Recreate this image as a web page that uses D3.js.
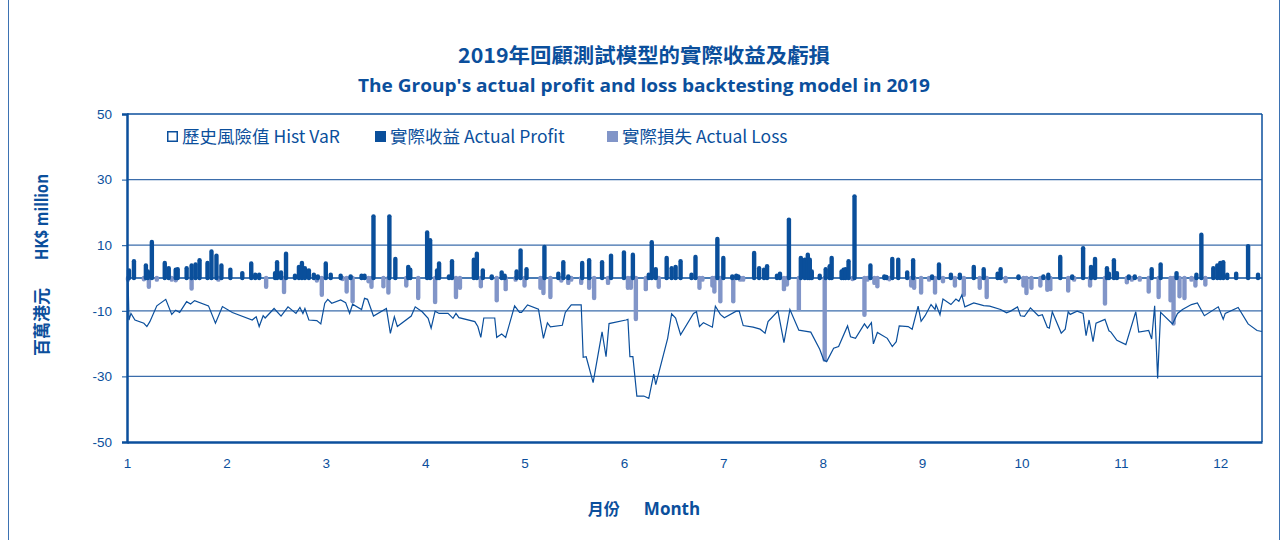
<!DOCTYPE html>
<html lang="en">
<head>
<meta charset="UTF-8">
<title>2019 Backtesting</title>
<style>
  body { margin: 0; background: #fff; }
  svg { display: block; }
  .cjk { font-family: "Noto Sans CJK TC", "Noto Sans", sans-serif; }
  .lat { font-family: "Open Sans", "Noto Sans", sans-serif; }
  .axis text { font-family: "Liberation Sans", Arial, sans-serif; font-size: 13.5px; fill: #0b4f9c; }
</style>
</head>
<body>
<svg id="chart" width="1287" height="540"></svg>
<script src="https://d3js.org/d3.v7.min.js"></script>
<script>
// --- data (x in months, values in HK$ million) ---
const monthTicks = [1, 2, 3, 4, 5, 6, 7, 8, 9, 10, 11, 12];
const yTicks = [-50, -30, -10, 10, 30, 50];

const varX = [1.01,1.02,1.04,1.08,1.17,1.20,1.23,1.30,1.39,1.45,1.49,1.53,1.60,1.64,1.68,1.82,1.89,1.96,
  2.06,2.26,2.30,2.33,2.37,2.39,2.48,2.55,2.62,2.70,2.74,2.77,2.79,2.83,2.91,2.95,2.99,
  3.02,3.06,3.15,3.20,3.24,3.27,3.36,3.39,3.42,3.48,3.61,3.65,3.69,3.72,3.86,3.90,3.97,
  4.03,4.06,4.10,4.14,4.23,4.28,4.31,4.34,4.50,4.53,4.56,4.59,4.70,4.72,4.77,4.81,4.90,4.95,4.97,
  5.03,5.14,5.19,5.23,5.26,5.38,5.41,5.47,5.57,5.59,5.62,5.69,5.78,5.82,5.85,
  6.02,6.04,6.06,6.09,6.13,6.20,6.25,6.30,6.32,6.44,6.48,6.52,6.57,6.70,6.73,6.76,6.80,6.89,6.92,6.97,
  7.01,7.13,7.16,7.20,7.30,7.37,7.42,7.45,7.55,7.61,7.67,7.76,7.82,7.88,7.97,
  8.01,8.04,8.11,8.16,8.25,8.28,8.33,8.42,8.45,8.49,8.51,8.55,8.65,8.70,8.74,8.77,8.86,8.90,8.96,8.99,
  9.03,9.09,9.13,9.14,9.18,9.21,9.29,9.34,9.37,9.40,9.43,9.52,9.62,9.68,9.79,9.82,9.85,9.89,9.96,9.99,
  10.03,10.09,10.17,10.21,10.26,10.28,10.31,10.40,10.44,10.47,10.49,10.56,10.62,10.65,10.68,10.72,10.75,10.84,10.88,10.90,10.96,
  11.05,11.15,11.18,11.28,11.31,11.34,11.37,11.40,11.52,11.57,11.62,11.71,11.77,11.84,11.98,
  12.03,12.05,12.18,12.28,12.37,12.42];
const varVal = [0,-12.8,-10.8,-12.8,-13.8,-14.8,-13.3,-8.5,-6.5,-11.1,-9.8,-10.5,-7.2,-7.9,-6.9,-8.5,-13.8,-8.7,
  -10.5,-12.8,-11.8,-14.8,-11.5,-12.2,-9.3,-11.6,-8.8,-10.8,-9.0,-10.8,-9.3,-12.8,-13.0,-14.0,-7.7,
  -6.5,-7.7,-6.7,-7.5,-10.8,-8.0,-9.6,-6.2,-6.5,-11.6,-9.3,-16.9,-11.8,-14.8,-11.6,-8.8,-10.3,
  -12.3,-15.3,-10.1,-10.8,-10.8,-12.3,-10.8,-12.1,-13.3,-14.8,-18.1,-12.2,-12.2,-18.1,-17.1,-18.1,-8.5,-10.5,-10.5,
  -8.2,-9.5,-18.4,-13.7,-14.9,-14.4,-10.5,-8.2,-8.2,-24.2,-24.0,-31.9,-16.4,-24.0,-13.9,
  -12.8,-12.6,-24.0,-24.0,-36.0,-36.0,-36.7,-29.3,-32.5,-18.4,-10.9,-12.2,-17.3,-10.8,-10.3,-14.8,-13.6,-15.0,-8.6,-11.1,
  -12.1,-10.1,-10.1,-14.5,-15.0,-15.6,-16.8,-13.3,-10.1,-19.7,-9.6,-15.9,-16.2,-16.5,-21.7,
  -25.0,-25.5,-21.4,-20.9,-14.6,-17.9,-18.4,-14.0,-15.3,-13.6,-20.1,-16.6,-18.4,-20.9,-19.4,-14.6,-14.8,-15.6,-8.6,-13.2,
  -11.5,-8.1,-9.6,-8.1,-11.2,-6.4,-8.1,-6.4,-7.1,-5.2,-8.8,-7.6,-8.4,-8.6,-9.6,-10.1,-10.6,-10.1,-8.8,-11.5,
  -11.7,-9.1,-11.5,-11.2,-15.0,-15.3,-10.3,-16.8,-15.6,-10.3,-11.1,-10.1,-10.8,-17.6,-12.8,-19.4,-13.8,-12.6,-16.1,-16.5,-19.0,
  -20.3,-10.3,-16.5,-16.0,-18.6,-8.5,-30.6,-10.5,-14.0,-10.8,-9.6,-8.1,-7.6,-11.5,-8.8,
  -12.6,-10.8,-9.0,-14.0,-16.0,-16.3];

const profitX = [1.02,1.07,1.19,1.21,1.25,1.38,1.42,1.49,1.51,1.60,1.65,1.69,1.73,1.81,1.85,1.90,1.95,
  2.04,2.16,2.25,2.29,2.33,2.49,2.51,2.55,2.60,2.69,2.73,2.76,2.79,2.83,2.88,2.92,
  3.00,3.05,3.15,3.25,3.36,3.39,3.48,3.64,3.70,3.83,3.85,
  4.02,4.05,4.12,4.14,4.24,4.27,4.49,4.52,4.58,4.67,4.77,4.80,4.92,4.96,
  5.02,5.20,5.34,5.39,5.44,5.58,5.65,5.78,5.87,
  6.00,6.09,6.25,6.28,6.32,6.43,6.48,6.52,6.57,6.68,6.72,6.94,
  7.00,7.09,7.13,7.15,7.31,7.36,7.41,7.44,7.54,7.57,7.66,7.78,7.82,7.85,7.87,7.89,7.97,
  8.03,8.07,8.09,8.19,8.21,8.23,8.26,8.32,8.48,8.62,8.64,8.70,8.76,8.85,8.91,
  9.10,9.17,9.29,9.38,9.52,9.62,9.76,9.79,9.97,
  10.22,10.27,10.39,10.51,10.62,10.70,10.74,10.86,10.88,10.93,10.96,
  11.08,11.14,11.31,11.40,11.56,11.76,11.81,11.93,11.97,
  12.00,12.03,12.07,12.16,12.28,12.38];
const profitVal = [2.3,5.1,3.8,2.0,11.0,4.6,3.0,2.5,2.7,3.0,3.8,4.1,5.4,4.6,8.1,6.8,3.8,
  2.5,1.5,4.4,1.0,1.0,1.5,4.8,1.7,7.4,0.7,3.4,4.6,3.0,2.3,1.0,0.5,
  4.4,1.0,0.7,0.5,0.7,0.7,18.8,18.8,5.8,3.4,2.5,
  13.9,11.5,2.3,4.4,0.5,5.1,5.6,7.4,2.3,0.5,1.7,0.7,2.0,8.4,
  2.7,9.5,1.3,4.8,0.5,4.6,5.4,4.8,6.8,
  7.8,7.1,1.0,10.9,2.7,6.1,3.0,3.4,5.1,1.0,6.4,11.9,
  6.1,0.5,0.7,0.5,7.6,3.0,2.5,3.6,0.7,1.3,17.8,6.1,5.6,7.1,5.6,2.0,0.7,
  2.7,3.6,6.1,2.0,2.5,2.7,5.1,24.9,3.8,0.5,0.3,5.8,5.6,1.7,5.4,
  0.5,4.1,1.0,1.0,3.4,2.7,1.3,2.7,0.5,
  0.5,1.0,6.4,0.5,9.1,3.4,5.8,3.0,1.3,5.4,1.5,
  0.5,0.5,2.7,4.1,1.5,1.0,13.2,3.0,3.8,
  4.6,4.8,1.0,1.3,9.7,1.0];

const lossX = [1.01,1.17,1.22,1.30,1.45,1.49,1.65,1.92,
  2.40,2.58,2.91,2.96,3.17,3.21,3.27,3.43,3.46,3.58,3.63,3.81,3.93,
  4.10,4.31,4.35,4.56,4.72,4.81,4.91,5.00,5.16,5.19,5.26,5.37,5.44,5.47,5.57,5.65,5.70,5.84,
  6.04,6.07,6.12,6.22,6.35,6.76,6.79,6.89,6.91,6.97,
  7.10,7.17,7.20,7.61,7.64,7.76,8.02,8.30,8.42,8.45,8.52,8.55,8.67,8.89,8.92,8.99,
  9.07,9.13,9.21,9.33,9.42,9.58,9.65,9.84,
  10.02,10.05,10.10,10.19,10.26,10.29,10.47,10.53,10.69,10.84,
  11.06,11.11,11.19,11.28,11.38,11.50,11.53,11.59,11.64,11.71,11.75,11.85];
const lossVal = [-0.5,-0.4,-2.7,-0.5,-0.5,-0.7,-3.2,-0.5,
  -2.7,-4.3,-0.8,-5.1,-0.3,-4.1,-7.1,-1.0,-2.7,-2.5,-4.4,-2.3,-6.1,
  -7.3,-5.8,-3.0,-2.5,-6.8,-3.4,-0.5,-2.3,-3.0,-4.6,-5.8,-0.8,-1.5,-0.5,-1.5,-3.0,-6.1,-1.5,
  -3.0,-3.0,-12.5,-3.4,-2.7,-3.0,-0.5,-2.3,-4.1,-7.1,
  -7.1,-0.5,-0.5,-3.4,-2.0,-9.5,-24.9,-0.3,-11.2,-0.5,-1.5,-2.5,-0.4,-2.3,-3.0,-4.4,
  -0.5,-4.4,-1.0,-2.3,-5.1,-3.0,-5.8,-1.0,
  -2.3,-4.6,-3.0,-2.3,-3.6,-3.4,-3.8,-0.5,-2.3,-7.8,
  -1.3,-0.5,-0.5,-4.1,-5.8,-6.8,-13.9,-5.6,-6.1,-0.5,-2.3,-2.0];

const legendItems = [
  { label: "歷史風險值 Hist VaR", kind: "hollow" },
  { label: "實際收益 Actual Profit", kind: "profit" },
  { label: "實際損失 Actual Loss", kind: "loss" }
];

// --- styles ---
const dark = "#0b4f9c";
const profitColor = "#0a4f9b";
const lossColor = "#8195c8";
const gridColor = "#3b6dab";

const svg = d3.select("#chart");
const plotL = 127, plotR = 1262, plotT = 114, plotB = 442;

const x = d3.scaleLinear().domain([1, 12.42]).range([plotL, plotR]);
const y = d3.scaleLinear().domain([-50, 50]).range([plotB, plotT]);

// outer frame
svg.append("line").attr("x1", 8.5).attr("x2", 8.5).attr("y1", 0).attr("y2", 540)
  .attr("stroke", "#3d72b2").attr("stroke-width", 1);
svg.append("line").attr("x1", 1279.5).attr("x2", 1279.5).attr("y1", 0).attr("y2", 540)
  .attr("stroke", "#3d72b2").attr("stroke-width", 1);

// titles
svg.append("text").attr("class", "cjk").attr("x", 644).attr("y", 63)
  .attr("text-anchor", "middle").attr("font-size", 20.5).attr("font-weight", 700)
  .attr("textLength", 372).attr("lengthAdjust", "spacingAndGlyphs")
  .attr("fill", dark).text("2019年回顧測試模型的實際收益及虧損");
svg.append("text").attr("class", "lat").attr("x", 644).attr("y", 92)
  .attr("text-anchor", "middle").attr("font-size", 18).attr("font-weight", 700)
  .attr("textLength", 572).attr("lengthAdjust", "spacingAndGlyphs")
  .attr("fill", dark).text("The Group's actual profit and loss backtesting model in 2019");

// gridlines
svg.append("g").selectAll("line").data(yTicks.filter(d => d !== 50 && d !== -50)).join("line")
  .attr("x1", plotL).attr("x2", plotR).attr("y1", d => y(d)).attr("y2", d => y(d))
  .attr("stroke", gridColor).attr("stroke-width", 1.3);
// zero line
svg.append("line").attr("x1", plotL).attr("x2", plotR).attr("y1", y(0)).attr("y2", y(0))
  .attr("stroke", dark).attr("stroke-width", 1.5);

// bars (drawn as round-capped strokes)
svg.append("g").selectAll("line").data(lossX.map((d, i) => [d, lossVal[i]])).join("line")
  .attr("x1", d => x(d[0])).attr("x2", d => x(d[0]))
  .attr("y1", y(0)).attr("y2", d => y(d[1]))
  .attr("stroke", lossColor).attr("stroke-width", 4.4).attr("stroke-linecap", "round");
svg.append("g").selectAll("line").data(profitX.map((d, i) => [d, profitVal[i]])).join("line")
  .attr("x1", d => x(d[0])).attr("x2", d => x(d[0]))
  .attr("y1", y(0)).attr("y2", d => y(d[1]))
  .attr("stroke", profitColor).attr("stroke-width", 4.4).attr("stroke-linecap", "round");

// VaR line
const line = d3.line().x(d => x(d[0])).y(d => y(d[1]));
svg.append("path").datum(varX.map((d, i) => [d, varVal[i]]))
  .attr("d", line).attr("fill", "none").attr("stroke", dark).attr("stroke-width", 1.2)
  .attr("stroke-linejoin", "miter");

// plot frame: top and right thin, left and bottom thick
svg.append("line").attr("x1", plotL).attr("x2", plotR).attr("y1", plotT).attr("y2", plotT)
  .attr("stroke", dark).attr("stroke-width", 1.5);
svg.append("line").attr("x1", plotR).attr("x2", plotR).attr("y1", plotT).attr("y2", plotB)
  .attr("stroke", dark).attr("stroke-width", 1.5);

// axes
const yAxis = svg.append("g").attr("class", "axis").attr("transform", `translate(${plotL},0)`)
  .call(d3.axisLeft(y).tickValues(yTicks).tickSize(5).tickPadding(10).tickFormat(d => String(d)));
yAxis.select(".domain").attr("stroke", dark).attr("stroke-width", 2.5);
yAxis.selectAll(".tick line").attr("stroke", dark).attr("stroke-width", 1);

const xAxis = svg.append("g").attr("class", "axis").attr("transform", `translate(0,${plotB})`)
  .call(d3.axisBottom(x).tickValues(monthTicks).tickSize(0).tickPadding(16).tickFormat(d => String(d)));
xAxis.select(".domain").attr("stroke", dark).attr("stroke-width", 2.5);

// legend
const legendPos = [167, 375, 607];
const lg = svg.append("g").selectAll("g").data(legendItems).join("g")
  .attr("transform", (d, i) => `translate(${legendPos[i]},131)`);
lg.append("rect").attr("x", d => d.kind === "hollow" ? 0.75 : 0).attr("y", d => d.kind === "hollow" ? 0.75 : 0)
  .attr("width", d => d.kind === "hollow" ? 9.5 : 11).attr("height", d => d.kind === "hollow" ? 9.5 : 11)
  .attr("fill", d => d.kind === "hollow" ? "#fff" : d.kind === "profit" ? profitColor : lossColor)
  .attr("stroke", d => d.kind === "hollow" ? dark : "none").attr("stroke-width", 1.5);
lg.append("text").attr("class", "cjk").attr("x", 15).attr("y", 12)
  .attr("font-size", 17.5).attr("fill", dark).text(d => d.label);

// axis titles
const xt = svg.append("text").attr("x", 644).attr("y", 515).attr("text-anchor", "middle").attr("fill", dark)
  .attr("font-weight", 700);
xt.append("tspan").attr("class", "cjk").attr("font-size", 16).text("月份");
xt.append("tspan").attr("class", "lat").attr("font-size", 17).attr("dx", 24).text("Month");

const yt = svg.append("text").attr("transform", "translate(48,265) rotate(-90)")
  .attr("text-anchor", "middle").attr("fill", dark).attr("font-weight", 700);
yt.append("tspan").attr("class", "cjk").attr("font-size", 17).text("百萬港元");
yt.append("tspan").attr("class", "lat").attr("font-size", 17).attr("dx", 28)
  .attr("textLength", 86).attr("lengthAdjust", "spacingAndGlyphs").text("HK$ million");
</script>
</body>
</html>
